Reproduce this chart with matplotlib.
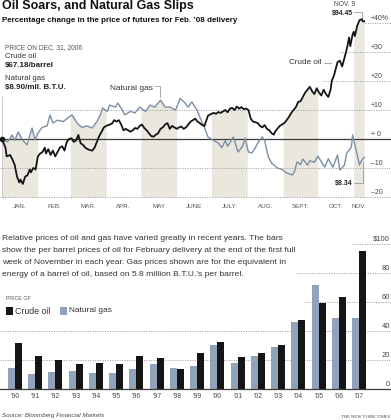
import numpy as np
import matplotlib
matplotlib.use("Agg")
import matplotlib.pyplot as plt
from matplotlib.patches import Rectangle

plt.rcParams['font.family'] = ['Liberation Sans', 'DejaVu Sans']

W, H = 391, 420

# --- top chart: % change since Dec. 31, 2006 (day of year 2007) ---
oil_day = [0, 3, 4, 7, 9, 11, 13, 15, 16, 18, 20, 22, 24, 25, 27, 29, 31, 33, 35, 37,
           38, 40, 42, 44, 46, 48, 50, 52, 54, 56, 58, 60, 62, 64, 66, 68, 70, 72, 74, 76,
           78, 80, 82, 84, 86, 88, 90, 93, 95, 97, 99, 101, 103, 105, 107, 109, 111, 113, 115, 117,
           119, 121, 123, 125, 127, 129, 131, 133, 135, 137, 139, 141, 143, 145, 147, 149, 151, 153, 155, 157,
           159, 161, 163, 165, 167, 169, 171, 173, 175, 178, 180, 183, 185, 187, 189, 191, 193, 195, 197, 199,
           201, 203, 205, 207, 209, 211, 213, 215, 217, 219, 221, 223, 225, 227, 229, 231, 233, 235, 236, 238,
           240, 242, 244, 246, 248, 250, 252, 254, 256, 258, 260, 262, 264, 266, 268, 270, 272, 274, 276, 278,
           280, 282, 284, 285, 287, 289, 290, 292, 294, 296, 298, 300, 301, 303, 304, 305, 307, 309, 311, 312, 313]
oil_pct = [0, -3, -6, -5.5, -7, -9, -13, -15, -14, -15.5, -13, -12.5, -10.5, -11.5, -10, -10.5, -6, -5, -4.5, -3,
           -5, -3.5, -5.5, -4, -6, -4.5, -3, -2.5, -4, -1, 0, 0.3, -1, -0.5, 1.4, -1.5, -2, -3, -3.5, -3.8,
           -4, -3, -1, 1, 2.4, 4, 4.5, 5, 5.3, 6.5, 6, 6.5, 5, 3, 3.5, 3, 2.5, 3, 3.8, 3.5,
           4.5, 5, 3.8, 3, 2, 1, 0.8, 1.5, 2, 3.5, 4, 5, 5.5, 3.5, 4.5, 4, 3.5, 4, 4.3, 3.5,
           4, 5, 6, 6.5, 7, 6, 5.5, 4.8, 4.5, 8, 8.5, 9, 8.7, 9.3, 9, 9.5, 10, 9.2, 10.5, 10.7,
           10, 11.2, 10.5, 11, 10.3, 10.5, 10, 7, 6, 5.8, 5.5, 4.5, 4, 4.8, 3.5, 3, 2, 1.5, 2.5, 3.5,
           4.5, 5, 5.5, 6.5, 7.6, 9, 10, 11, 12.8, 13, 14.5, 16, 17, 18, 16.5, 15.5, 17.5, 16, 15, 17,
           15.5, 14.5, 17, 20, 22, 25, 26.5, 27, 25, 28, 31, 35, 32, 36, 37, 35.5, 39, 41, 41.3, 40.5, 40.6]

gas_day = [0, 5, 8.6, 11, 14, 18, 21.6, 26, 28.5, 31, 34.6, 39, 41.5, 44, 48, 53, 56, 60.5, 65, 69,
           73.5, 78, 82, 85, 87, 91, 93, 98, 100, 104, 106, 111, 115, 119, 124, 128, 132, 137, 141, 145,
           150, 154, 158, 161, 164, 168.5, 171, 175, 178, 182, 187, 190, 193, 195, 200, 204, 208, 210, 213, 216,
           219, 221, 225, 227, 230, 233, 238, 242, 246, 251, 253, 255, 258, 260, 264, 266, 270, 273, 277, 279,
           282, 286, 290, 292, 296, 298, 302, 303, 306, 309, 310, 313]
gas_pct = [0, -1, 1.4, -0.5, 2.4, -0.5, -2, 3.8, -0.3, 2, 4, 4.5, 8.3, 5.5, 6.5, 6, 7, 8.3, 5.5, 4,
           4.5, 3.8, 6, 8.3, 10.7, 9.5, 11.7, 11, 12.4, 10, 8.3, 9.5, 9, 11, 9.5, 11.7, 11, 13.4, 11, 11,
           10, 14, 12.5, 11, 12.8, 10, 7.6, 4, 0.7, -0.3, -1.4, -3, -0.5, -2.5, 0.7, -4.5, -2.5, 0.3, -4.5, -4.8,
           -3, -1.4, 0.7, -0.5, -6, -8.3, -10, -10.5, -11.7, -12.4, -11, -7.9, -8.8, -6.9, -9, -7.5, -8, -5.9, -8.5, -9.7,
           -6.8, -9.7, -5.5, -10.7, -9, -4.8, -2.8, 1.4, -3.8, -9, -8, -6.3]

months = ["JAN.", "FEB.", "MAR.", "APR.", "MAY", "JUNE", "JULY", "AUG.", "SEPT.", "OCT.", "NOV."]
month_mid = [15.5, 45, 74.5, 105, 135.5, 166, 196.5, 227.5, 258, 288.5, 308.5]
shaded = [(0, 31), (59, 90), (120, 151), (181, 212), (243, 273), (304, 313)]
top_ticks = [40, 30, 20, 10, 0, -10, -20]
top_labels = ["+40%", "+30", "+20", "+10", "+ 0", "\u201310", "\u201320"]

# --- bottom chart: yearly prices ---
years = ["\u201990", "\u201991", "\u201992", "\u201993", "\u201994", "\u201995", "\u201996", "\u201997", "\u201998",
         "\u201999", "\u201900", "\u201901", "\u201902", "\u201903", "\u201904", "\u201905", "\u201906", "\u201907"]
oil_bar = [31.5, 22.7, 20, 17.2, 17.7, 17.2, 22.7, 21.2, 13.8, 24.6, 32.2, 22.3, 25, 30.3, 47.6, 59.5, 63.7, 95.4]
gas_bar = [14.7, 10.1, 11.5, 12.4, 10.8, 10.8, 14, 17, 14.5, 15.9, 30.3, 18.2, 23, 29.2, 46, 71.7, 48.7, 48.7]
bot_ticks = [100, 80, 60, 40, 20, 0]
bot_labels = ["$100", "80", "60", "40", "20", "0"]

OIL = '#151515'
GAS_LINE = '#7b8fa4'
GAS_BAR = '#8fa4bb'
BAND = '#e9e7de'
GRID = '#9a9a9a'
TXT = '#333333'


def fp(x, y):
    return x / W, 1 - y / H


fig = plt.figure(figsize=(W / 100, H / 100), dpi=100)
fig.patch.set_facecolor('white')

# ================= top chart =================
ax1 = fig.add_axes([0, 1 - 215 / H, 1, 215 / H])
ax1.axis('off')


def dx(px):
    return (px - 2) / 1.157


def dv(py):
    return (139 - py) / 2.9


ax1.set_xlim(dx(0), dx(W))
ax1.set_ylim(dv(215), dv(0))

grid = np.arange(0, 313.01, 0.25)
upper = np.maximum(np.interp(grid, oil_day, oil_pct), np.interp(grid, gas_day, gas_pct))
for a, b in shaded:
    m = (grid >= a) & (grid <= b)
    ax1.fill_between(grid[m], -20, upper[m], color=BAND, lw=0, zorder=1)

grid_start = {40: 365, 30: 340, 20: 323, 10: 50, -10: 0, -20: 0}
for v, lab in zip(top_ticks, top_labels):
    if v == 0:
        ax1.plot([dx(0), dx(W)], [0, 0], color='#3a3a3a', lw=0.9, zorder=2)
    else:
        ax1.plot([dx(grid_start[v]), dx(W)], [v, v], color=GRID, lw=0.7,
                 ls=(0, (1, 1.5)), zorder=2)
    ax1.text(dx(371), v + 1.7, lab, fontsize=5, color='#444444', ha='left', va='center')

ax1.plot([dx(1.5), dx(1.5)], [dv(96), -20], color='#bbbbbb', lw=0.5, zorder=2)
ax1.plot(gas_day, gas_pct, color=GAS_LINE, lw=1.0, zorder=3)
ax1.plot(oil_day, oil_pct, color=OIL, lw=1.3, zorder=4)
ax1.plot([0], [0], 'o', ms=3, color=OIL, zorder=5)

for name, mid in zip(months, month_mid):
    ax1.text(mid, dv(206), name, fontsize=4.5, color='#555555', ha='center', va='center')

# leaders
lc = '#8a8a8a'
ax1.plot([dx(155), dx(160), dx(160)], [dv(86), dv(86), dv(97)], color=lc, lw=0.5)
ax1.plot([dx(324), dx(331)], [dv(63), dv(63)], color=lc, lw=0.5)
ax1.plot([dx(354), dx(362), dx(362)], [dv(12), dv(12), dv(19)], color=lc, lw=0.5)
ax1.plot([dx(354), dx(363), dx(363)], [dv(183), dv(183), dv(162)], color=lc, lw=0.5)

fig.text(*fp(131, 89), "Natural gas", fontsize=6, color=TXT, ha='center', va='center')
fig.text(*fp(305, 63), "Crude oil", fontsize=5.9, color=TXT, ha='center', va='center')
fig.text(*fp(345, 4), "NOV. 9", fontsize=4.8, color='#444444', ha='center', va='center')
fig.text(*fp(342, 13), "$94.45", fontsize=5, fontweight='bold', color='#222222', ha='center', va='center')
fig.text(*fp(343.5, 183), "$8.34", fontsize=5, fontweight='bold', color='#222222', ha='center', va='center')

# titles and price block
fig.text(*fp(2, 6), "Oil Soars, and Natural Gas Slips", fontsize=9, fontweight='bold',
         color='#111111', ha='left', va='center')
fig.text(*fp(2, 21), "Percentage change in the price of futures for Feb. \u201908 delivery",
         fontsize=5.8, fontweight='bold', color='#111111', ha='left', va='center')
fig.text(*fp(5, 48), "PRICE ON DEC. 31, 2006", fontsize=4.8, color='#555555', ha='left', va='center')
fig.text(*fp(5, 57), "Crude oil", fontsize=5.6, color=TXT, ha='left', va='center')
fig.text(*fp(5, 66), "$67.18/barrel", fontsize=5.8, fontweight='bold', color='#222222', ha='left', va='center')
fig.text(*fp(5, 79), "Natural gas", fontsize=5.6, color=TXT, ha='left', va='center')
fig.text(*fp(5, 88), "$8.90/mil. B.T.U.", fontsize=5.8, fontweight='bold', color='#222222', ha='left', va='center')

# ================= bottom chart =================
para = ["Relative prices of oil and gas have varied greatly in recent years. The bars",
        "show the per barrel prices of oil for February delivery at the end of the first full",
        "week of November in each year. Gas prices shown are for the equivalent in",
        "energy of a barrel of oil, based on 5.8 million B.T.U.\u2019s per barrel."]
for k, line in enumerate(para):
    fig.text(*fp(2, 238 + 12 * k), line, fontsize=6.1, color=TXT, ha='left', va='center')

ax2 = fig.add_axes([0, 1 - 400 / H, 1, 170 / H])
ax2.axis('off')


def bx(px):
    return (px - 15) / 20.24


def bv(py):
    return (389 - py) / 1.45


ax2.set_xlim(bx(0), bx(W))
ax2.set_ylim(bv(400), bv(230))

bgrid_start = {100: 352, 80: 297, 60: 305, 40: 0, 20: 0}
for v, lab in zip(bot_ticks, bot_labels):
    if v == 0:
        ax2.plot([bx(0), bx(W)], [0, 0], color='#3a3a3a', lw=0.9, zorder=3)
    else:
        ax2.plot([bx(bgrid_start[v]), bx(W)], [v, v], color=GRID, lw=0.7,
                 ls=(0, (1, 1.5)), zorder=1)
    ax2.text(bx(390), v + 3.4, lab, fontsize=5.5, color='#444444', ha='right', va='center')

idx = np.arange(len(years))
w = 7 / 20.24
ax2.bar(idx - w / 2, gas_bar, width=w, color=GAS_BAR, zorder=2)
ax2.bar(idx + w / 2, oil_bar, width=w, color=OIL, zorder=2)
for i, y in zip(idx, years):
    ax2.text(i, bv(397), y, fontsize=4.9, color='#444444', ha='center', va='center')

fig.text(*fp(6, 298), "PRICE OF", fontsize=3.8, color='#555555', ha='left', va='center')
fig.add_artist(Rectangle(fp(6, 315), 7 / W, 8 / H, transform=fig.transFigure, color=OIL, lw=0))
fig.text(*fp(15, 311), "Crude oil", fontsize=6.3, color=TXT, ha='left', va='center')
fig.add_artist(Rectangle(fp(60, 315), 7 / W, 8 / H, transform=fig.transFigure, color=GAS_BAR, lw=0))
fig.text(*fp(69, 311), "Natural gas", fontsize=6.0, color=TXT, ha='left', va='center')

fig.text(*fp(2, 416), "Source: Bloomberg Financial Markets", fontsize=4.4, style='italic',
         color='#444444', ha='left', va='center')
fig.text(*fp(390, 417), "THE NEW YORK TIMES", fontsize=3.3, family=['Liberation Serif', 'DejaVu Serif'],
         color='#444444', ha='right', va='center')

fig.savefig("out.png", dpi=100, facecolor='white')
